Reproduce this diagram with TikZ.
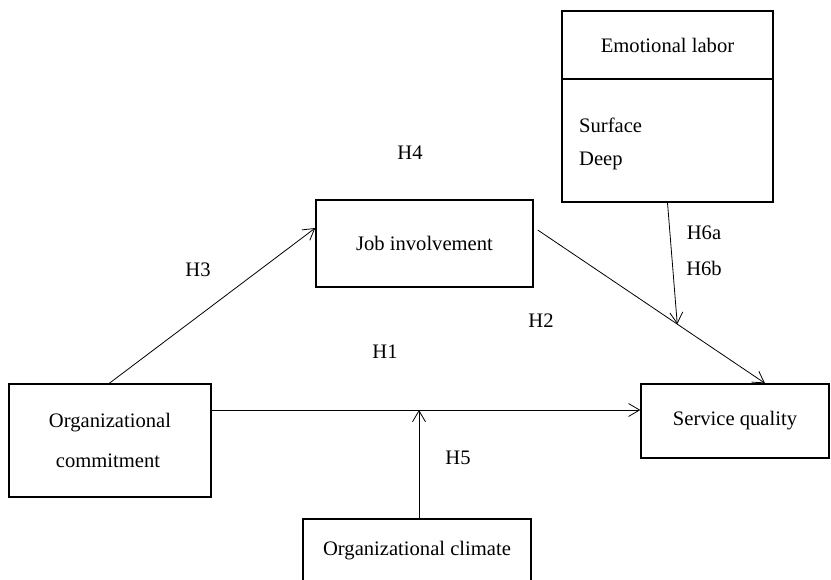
\documentclass[tikz,border=0pt]{standalone}
\usepackage{fontspec}
\setmainfont{Liberation Serif}
\usetikzlibrary{arrows.meta,calc}
\begin{document}
\begin{tikzpicture}[x=1pt,y=-1pt,
  box/.style={draw, line width=1.4pt, inner sep=0pt},
  conn/.style={line width=0.8pt, -{Straight Barb[length=11pt,width=13pt,line width=0.8pt]}},
  txt/.style={font=\fontsize{20.6}{24}\selectfont, inner sep=0pt}]
\useasboundingbox (0,0) rectangle (831,580);
% boxes
\node[box, minimum width=202pt, minimum height=113pt] (oc) at (110,440.5) {};
\node[txt] (octext1) at (110,423) {Organizational};
\node[txt] (octext2) at (108,461) {commitment};
\node[box, minimum width=217pt, minimum height=87pt, txt] (job) at (424.5,243.5) {Job involvement};
\node[box, minimum width=188pt, minimum height=74pt, txt] (sq) at (735,421) {Service quality};
\node[box, minimum width=211pt, minimum height=68pt, txt] (emo) at (667.5,45) {Emotional labor};
\node[box, minimum width=211pt, minimum height=123pt] (emob) at (667.5,140.5) {};
\node[txt, anchor=west] (surf) at (579,125) {Surface};
\node[txt, anchor=west] (deep) at (579,161) {Deep};
\node[box, minimum width=228pt, minimum height=64pt, txt] (clim) at (417,551) {Organizational climate};
% connectors
\draw[conn] ([xshift=101pt]oc.north west) -- ([yshift=15.5pt]job.west);
\coordinate (js) at ([xshift=4pt,yshift=13.5pt]job.east);
\coordinate (je) at ([xshift=30pt]sq.north);
\draw[conn] (js) -- (je);
\coordinate (m) at ($(js)!0.614!(je)$);
\draw[conn] (emob.south) -- (m);
\coordinate (hs) at ([yshift=30.5pt]oc.east);
\coordinate (he) at ([yshift=11pt]sq.west);
\draw[conn] (hs) -- (he);
\coordinate (cm) at ([xshift=2pt]clim.north |- he);
\draw[conn] ([xshift=2pt]clim.north) -- (cm);
% labels
\node[txt] (h4) at (410,153) {H4};
\node[txt] (h3) at (198,270) {H3};
\node[txt] (h2) at (541,321) {H2};
\node[txt] (h1) at (385,352) {H1};
\node[txt] (h5) at (458,458) {H5};
\node[txt] (h6a) at (704,233) {H6a};
\node[txt] (h6b) at (704,268) {H6b};
\end{tikzpicture}
\end{document}
